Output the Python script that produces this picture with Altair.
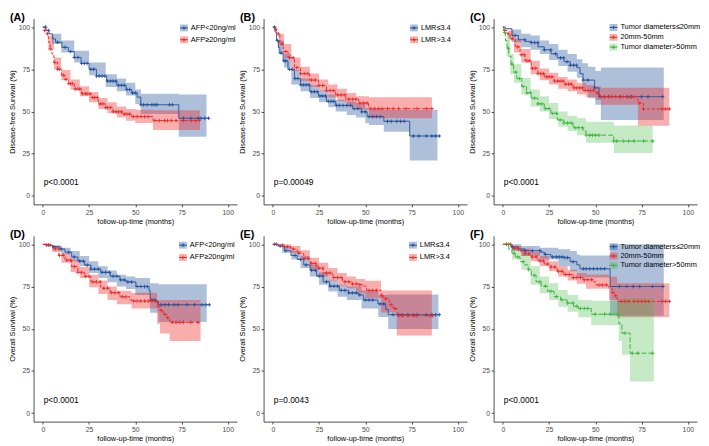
import altair as alt
import pandas as pd

# ---------------- layout / style ----------------
W, H = 207, 189
BLUE, RED, GREEN = "#22529B", "#EE2A2A", "#3DB53D"
BAND_OP = {BLUE: 0.37, RED: 0.38, GREEN: 0.30}
DASH = {BLUE: [1, 0], RED: [3, 2], GREEN: [5, 2]}
CROSS = "M-1,0L1,0M0,-1L0,1"
TICKS = [0, 25, 50, 75, 100]
XTITLE = "follow-up-time (months)"

# ---------------- data ----------------
# Panel A (DFS by AFP)
A1_t = [0, 1.7, 3.4, 5.2, 6.9, 10.3, 13.8, 17, 20.7, 25, 29, 34.5, 40, 45, 48, 51, 53, 73.5, 90]
A1_s = [100, 98, 96, 93, 91, 88, 85.5, 82, 78.5, 75, 71, 68, 65.5, 63, 61, 58.5, 54, 46, 46]
A1_ct = [0, 5, 10, 17, 25, 34, 40, 45, 50, 53, 73.5, 88.5]
A1_hi = [100, 96, 92, 86, 79, 72, 69.5, 67, 63, 60.5, 60, 60]
A1_lo = [100, 90, 85, 79, 71.5, 64.5, 62, 59.5, 54.5, 48.5, 35, 35]
A1_c = [1.5, 3, 8, 12, 15, 17, 19, 21, 22.5, 24, 26, 27.5, 29, 30.5, 32, 33.5, 35, 36.5, 38, 39.5, 41,
        42.5, 44, 45.5, 47, 48.5, 50, 53, 54.5, 56.5, 59, 60.6, 61.7, 68.4, 70, 76, 80, 84, 85.5, 87.5, 89.6]
A2_t = [0, 1, 2, 3, 4, 5, 6, 8, 10, 12, 14, 17, 21, 26, 30, 34, 38, 43, 48, 59.6, 85]
A2_s = [100, 98, 96, 91, 87, 84, 79, 75, 71.5, 69, 66.5, 63.3, 60.5, 58.3, 54.5, 52.3, 49.8, 48.5, 47, 44.6, 44.6]
A2_ct = [0, 3, 6, 10, 15, 20, 25, 30, 35, 40, 45, 50, 59.6, 85]
A2_hi = [100, 95, 82, 74.5, 69, 65, 61.5, 58, 55.5, 53, 51.5, 51, 50.8, 50.8]
A2_lo = [100, 87, 75, 68.5, 63, 59, 55.5, 51.5, 49, 46.5, 44.5, 43.2, 39, 39]
A2_c = [1, 2.5, 4, 6.5, 8, 9, 11, 12.5, 14, 15, 16, 17.5, 19, 20, 21.5, 23, 24, 25.5, 27, 28, 29.5, 31,
        32.5, 34, 35, 36.5, 38, 39.5, 41, 42.5, 44, 45.5, 47, 49, 51, 53, 55, 57, 60.6, 63, 65.8, 67.4,
        69.4, 72, 76, 80, 82.4, 84.5]

# Panel B (DFS by LMR)
B1_t = [0, 1.2, 2, 3, 3.8, 5.6, 8.2, 11.7, 15, 20, 24.7, 29, 34, 43, 48, 51, 60, 74, 90]
B1_s = [100, 97, 92, 88, 84.6, 80, 75, 69.5, 65.8, 61.7, 59.2, 56, 53.6, 51.7, 49.8, 47, 44.2, 35.5, 35.5]
B1_ct = [0, 3, 6, 10, 15, 20, 25, 30, 34, 40, 45, 50, 52, 60, 74, 89]
B1_hi = [100, 92, 84, 74.5, 69.5, 65.5, 62.5, 60, 57, 56, 55, 52, 51.5, 51, 51, 51]
B1_lo = [100, 84, 76, 66, 62, 58, 55.5, 52.5, 50, 48, 46.5, 43, 42, 38, 21, 21]
B1_c = [1, 2.5, 4.5, 6, 7, 9, 10.5, 12, 13.5, 15, 16.5, 18, 19.5, 21, 22.5, 24, 25.5, 27, 28.5, 30, 31.5,
        33, 34.5, 36, 38, 40, 42, 44, 46, 48, 50, 52, 54, 56, 58, 62, 64, 67, 69, 71, 76, 79, 83, 86, 88, 90]
B2_t = [0, 1.2, 2, 3.8, 5.6, 8.2, 11.7, 15, 20, 24.7, 29, 34, 39.5, 46.4, 51.7, 52.5, 86.4]
B2_s = [100, 98.7, 96, 90, 85.5, 81.8, 76, 72.4, 68.6, 65.4, 62.4, 59.8, 57.3, 55, 52.6, 51.7, 51.7]
B2_ct = [0, 3, 6, 10, 15, 20, 25, 30, 35, 40, 45, 52, 86]
B2_hi = [100, 96, 90, 82, 76.5, 72.5, 69, 66, 63.5, 61, 59, 58.5, 58.5]
B2_lo = [100, 89, 81.5, 74, 68, 64.5, 62, 58.5, 56, 53, 51, 46, 46]
B2_c = [1.5, 3, 5, 7, 9, 11, 13, 15, 17, 19, 21, 23, 25, 27, 29, 31, 33, 35, 37, 39, 41, 43, 45, 47, 49,
        51, 53, 55, 57, 59, 62, 65, 68, 72, 78, 83, 86]

# Panel C (DFS by tumour diameter)
C1_t = [0, 1.4, 4.9, 8.4, 12, 15.4, 19, 22.4, 26, 29.4, 33, 36.4, 40, 41.7, 43.4, 49.6, 52, 87]
C1_s = [100, 99, 95, 92.5, 91.5, 90.8, 88.3, 86.5, 84.2, 81.8, 79.5, 77.4, 76, 72.4, 68.6, 64, 58.8, 58.8]
C1_ct = [0, 5, 10, 15, 20, 25, 30, 35, 40, 43, 46, 50, 53, 87]
C1_hi = [100, 98.5, 96, 95, 92, 90, 86.5, 84, 81, 78.5, 76.5, 74, 76, 76]
C1_lo = [100, 91, 88, 86.5, 84, 80.5, 77, 73.5, 70, 63, 58, 54, 45, 45]
C1_c = [6.7, 11.9, 15.4, 17.2, 18.9, 22.4, 25.9, 28.5, 31.2, 32.9, 34.7, 36.4, 38.2, 39.9, 43.4, 46,
        49.6, 52.5, 54.8, 57.4, 63.5, 67.6, 69.7, 74.9, 78.5, 86.3]
C2_t = [0, 0.5, 2.3, 4, 6.7, 9.3, 12, 15.4, 19, 22.4, 27.7, 33, 38, 43.4, 50.4, 52, 73, 76, 90]
C2_s = [100, 98, 96, 93, 88.3, 83.6, 80, 75.6, 72.4, 70.5, 68, 66.2, 64, 62.4, 61, 58.8, 55, 51.5, 51.5]
C2_ct = [0, 3, 6, 10, 15, 20, 25, 30, 35, 40, 45, 50, 53, 73, 90]
C2_hi = [100, 98, 93, 87, 80, 75.5, 73, 70.5, 69, 67, 65.5, 65, 64, 64, 64]
C2_lo = [100, 93, 85, 79, 72, 68.5, 66, 63.5, 62, 60, 58.5, 57, 54, 41.5, 41.5]
C2_c = [1, 3, 5, 8, 10, 11.5, 13, 14.5, 16, 17.5, 19, 20.5, 22, 23.5, 25, 26.5, 28, 29.5, 31, 32.5, 34,
        35.5, 37, 38.5, 40, 41.5, 43, 44.5, 46, 47.5, 49, 51, 53, 55, 57, 59, 61, 63, 65, 67, 69, 71, 74,
        76, 86, 88, 90]
C3_t = [0, 0.5, 1.4, 2.3, 3.2, 4.4, 5.8, 7.5, 10.2, 12.8, 15.4, 19, 22.4, 26, 29.4, 33, 38, 43.4, 45, 60, 81.6]
C3_s = [100, 96.8, 92, 87.4, 82.7, 78, 73.3, 69.5, 64.8, 61, 57.9, 54.5, 51.7, 48.9, 45, 43.2, 40.4,
        38.5, 36, 32.5, 32.5]
C3_ct = [0, 2, 4, 6, 10, 15, 20, 25, 30, 35, 40, 45, 60, 81]
C3_hi = [100, 95, 84, 78, 70, 63, 59, 55, 50, 47.5, 46, 44, 41.7, 41.7]
C3_lo = [100, 83, 72, 67, 60, 53, 50, 45.5, 41, 38.5, 36, 31.5, 25.5, 25.5]
C3_c = [1, 3, 5, 7, 9, 11, 13, 15, 17, 19, 21, 23, 25, 27, 29, 31, 33, 35, 37, 39, 41, 43, 45, 47, 48.5,
        50, 52, 60, 61.5, 65, 68, 71, 76, 81]

# Panel D (OS by AFP)
D1_t = [0, 2, 5.2, 8.7, 12, 15.6, 19, 22.6, 26, 31.3, 36.5, 41.7, 45, 50.3, 57.5, 58, 61.6, 62.5, 90]
D1_s = [100, 99.5, 98.5, 97.2, 95.3, 92.5, 90, 87.7, 85.3, 83.4, 81.1, 78.9, 77.7, 75, 72.6, 67, 66, 64.2, 64.2]
D1_ct = [0, 5, 10, 15, 20, 25, 30, 35, 40, 45, 50, 58, 62.5, 88.6]
D1_hi = [100, 99.5, 98, 96, 93, 90, 87, 84.5, 82, 81, 80, 77, 76.4, 76.4]
D1_lo = [100, 97.5, 94, 90, 87, 83, 80, 77.5, 75, 73.5, 70, 59.5, 54, 54]
D1_c = [3, 6, 10, 14, 17, 20, 22, 24, 26, 28, 30, 32, 34, 36, 38, 40, 42, 44, 46, 48, 51, 53, 55, 56.5,
        59, 60.5, 64, 66, 68, 71, 73, 78, 82, 86, 88, 90]
D2_t = [0, 1.7, 5.2, 8.7, 12, 15.6, 19, 22.6, 26, 31.3, 36.5, 41.7, 47, 48.3, 61.8, 63.4, 65, 66.8, 68.6, 85.4]
D2_s = [100, 99.5, 97.2, 93.4, 90.6, 86.8, 83.4, 81, 77.7, 74, 71.3, 68.9, 67, 66.4, 63.2, 60.8, 58.5,
        56.6, 53.8, 53.8]
D2_ct = [0, 5, 10, 15, 20, 25, 30, 35, 40, 48, 61.8, 63.4, 68.6, 85.3]
D2_hi = [100, 99, 94.5, 91, 86.5, 82, 78.5, 75, 72.5, 71.3, 67, 67, 67, 67]
D2_lo = [100, 95.5, 89, 83.5, 80, 74.5, 70.5, 67, 64.5, 62, 53, 47.2, 42.7, 42.7]
D2_c = [2, 4, 7, 9, 11, 13, 15, 17, 19, 21, 23, 25, 27, 29, 31, 33, 35, 37, 39, 41, 43, 45, 49, 51, 53,
        55, 57, 59, 61, 62.5, 64, 66, 67.5, 70, 72, 74, 76, 80, 84]

# Panel E (OS by LMR)
E1_t = [0, 2.8, 6.3, 9.8, 13.2, 16.7, 20.2, 23.7, 27.2, 30.7, 35.9, 41, 46.3, 49, 56.8, 61, 62.4, 90]
E1_s = [100, 99, 96.2, 93.4, 91, 87.8, 84.6, 81.2, 77.8, 75.2, 72.7, 71.2, 70, 67, 64.7, 61.5, 58.3, 58.3]
E1_ct = [0, 5, 10, 15, 20, 25, 30, 35, 40, 48, 57, 62.4, 89.5]
E1_hi = [100, 99, 96, 93, 88, 83.5, 79, 76, 75, 72.7, 70, 70.3, 70.3]
E1_lo = [100, 95, 91, 86, 81, 76, 72, 69, 67, 62, 57, 49.8, 49.8]
E1_c = [1, 4, 7, 12, 15, 18, 21, 23, 25, 27, 29, 31, 33, 35, 37, 39, 41, 43, 45, 47, 50, 52, 54, 58, 60,
        65, 68, 70, 73, 76, 78, 83, 86, 88, 90]
E2_t = [0, 3, 6.3, 9.8, 13.2, 16.7, 20.2, 23.7, 27.2, 32.4, 37.6, 42.9, 46.3, 49, 50.7, 58.5, 60, 63, 65, 67, 86.4]
E2_s = [100, 99.5, 98.5, 97.2, 94.7, 91.5, 88.7, 85.9, 83, 80.3, 77.8, 76.5, 76, 75.2, 72.7, 69.5, 67.7,
        64.3, 62, 57.7, 57.7]
E2_ct = [0, 5, 10, 15, 20, 25, 30, 35, 40, 45, 50, 58.5, 67, 86]
E2_hi = [100, 100, 99, 96.5, 92, 89, 86, 83, 81, 79.5, 78.4, 72.7, 72.7, 72.7]
E2_lo = [100, 97.5, 95, 91, 85, 81, 78.5, 75.5, 74, 71, 68, 59.6, 46, 46]
E2_c = [2, 5, 8, 11, 14, 17, 19, 21, 23, 25, 27, 29, 31, 33, 35, 37, 39, 41, 43, 45, 47, 52, 54, 56, 59,
        61, 64, 66, 68, 70, 73, 76, 77.5, 85, 86.4]

# Panel F (OS by tumour diameter)
F1_t = [0, 4.9, 8.4, 11.9, 20.7, 22.4, 26, 33, 36.4, 40, 41.7, 58, 87]
F1_s = [100, 98.5, 97.2, 96.2, 95.3, 94, 92.5, 92.1, 89.7, 87.8, 85.5, 75, 75]
F1_ct = [0, 5, 10, 20, 30, 36.4, 40, 41.7, 58, 87]
F1_hi = [100, 100, 99, 98, 97, 96, 94, 93.4, 100, 100]
F1_lo = [100, 96, 93, 91, 87, 84, 80, 80.3, 57.7, 57.7]
F1_c = [5, 12, 16, 20, 23, 27, 29, 30.5, 32, 33.5, 35, 38, 43.5, 45, 47, 49, 51, 53, 55, 63, 67, 70.5,
        74, 81, 86.5]
F2_t = [0, 4.9, 8.4, 11.9, 15.4, 19, 22.4, 26, 29.4, 33, 38, 43.4, 48.7, 50.4, 57.4, 59, 60.6, 61.8, 90.4]
F2_s = [100, 97.7, 96.2, 94.4, 92.5, 90.2, 88.3, 86.5, 84, 82.1, 80.3, 79, 77.8, 75.9, 74, 71.4, 69.5,
        66.2, 66.2]
F2_ct = [0, 5, 10, 15, 20, 25, 30, 35, 40, 45, 57.4, 61.8, 90]
F2_hi = [100, 99, 97.5, 95.5, 93, 90, 87, 85, 83, 82.1, 80.8, 76.9, 76.9]
F2_lo = [100, 96.5, 93, 90, 87, 84, 81, 78.5, 76.6, 73.7, 67, 56.8, 56.8]
F2_c = [2, 4, 6, 8, 10, 12, 14, 16, 18, 20, 22, 24, 26, 28, 30, 32, 34, 36, 38, 40, 42, 44, 46, 48, 52,
        54, 56, 59.5, 61, 64, 66, 68, 71, 73, 75, 77, 79, 86, 88, 90]
F3_t = [0, 3.2, 4.9, 6.7, 9.3, 11.9, 13.7, 15.4, 18, 20.7, 24.2, 27.7, 31.2, 34.7, 38.2, 40.8, 47.8,
        62.7, 64.4, 68.8, 81.6]
F3_s = [100, 97.2, 94.7, 92.5, 89.7, 87.8, 85, 81.6, 77.8, 75.2, 72.2, 69, 67.1, 65.2, 63.3, 62, 58.6,
        53, 47.4, 35.5, 35.5]
F3_ct = [0, 5, 10, 15, 20, 25, 30, 35, 40.8, 47.8, 62.7, 64.4, 68.8, 81.6]
F3_hi = [100, 98, 94, 87, 81, 77, 73, 70, 67, 66.5, 66.5, 68, 68, 68]
F3_lo = [100, 91, 85, 76, 71, 67, 63, 60, 56.8, 52, 42.7, 34.6, 18.8, 18.8]
F3_c = [3, 6, 8, 11, 14, 17, 20, 23, 26, 29, 32, 35, 38, 40, 42, 44, 46, 50, 55, 58, 62, 66, 70, 73, 81]

AFP_LABELS = ["AFP<20ng/ml", "AFP≥20ng/ml"]
LMR_LABELS = ["LMR≤3.4", "LMR>3.4"]
TUM_LABELS = ["Tumor diameters≤20mm", "20mm-50mm", "Tumor diameter>50mm"]
DFS_TITLE = "Disease-free Survival (%)"
OS_TITLE = "Overall Survival (%)"


# ---------------- helpers ----------------
def step_lookup(times, surv, c):
    val = surv[0]
    for tt, ss in zip(times, surv):
        if tt <= c:
            val = ss
    return val


def panel(tag, ytitle, pval, curves, labels, lx, ly0, ldy):
    xsc = alt.Scale(domain=[-5, 105], nice=False, zero=False)
    ysc = alt.Scale(domain=[-5, 105], nice=False, zero=False)
    xax = alt.Axis(values=TICKS, title=XTITLE)
    yax = alt.Axis(values=TICKS, title=ytitle)
    X = alt.X("t:Q", scale=xsc, axis=xax)
    layers = []
    for (t, s, ct, lo, hi, cens, col) in curves:
        bd = pd.DataFrame({"t": ct, "lo": lo, "hi": hi})
        layers.append(
            alt.Chart(bd).mark_area(interpolate="step-after", color=col, opacity=BAND_OP[col])
            .encode(x=X, y=alt.Y("lo:Q", scale=ysc, axis=yax), y2="hi:Q")
        )
    for (t, s, ct, lo, hi, cens, col) in curves:
        ld = pd.DataFrame({"t": t, "s": s})
        layers.append(
            alt.Chart(ld).mark_line(interpolate="step-after", color=col, strokeWidth=1,
                                    strokeDash=DASH[col])
            .encode(x=X, y=alt.Y("s:Q", scale=ysc, axis=yax))
        )
    for (t, s, ct, lo, hi, cens, col) in curves:
        cd = pd.DataFrame({"t": cens, "s": [step_lookup(t, s, c) for c in cens]})
        layers.append(
            alt.Chart(cd).mark_point(shape=CROSS, color=col, size=14, strokeWidth=0.9,
                                     filled=False, opacity=1)
            .encode(x=X, y=alt.Y("s:Q", scale=ysc, axis=yax))
        )
    # p-value
    layers.append(
        alt.Chart(pd.DataFrame({"label": [pval]}))
        .mark_text(align="left", baseline="middle", fontSize=8.5, fill="#000000")
        .encode(x=alt.value(W * 5.5 / 110), y=alt.value(H * (105 - 8) / 110), text="label:N")
    )
    # panel tag
    layers.append(
        alt.Chart(pd.DataFrame({"label": [tag]}))
        .mark_text(align="left", baseline="alphabetic", fontSize=11, fontWeight="bold", fill="#000000")
        .encode(x=alt.value(-24), y=alt.value(2), text="label:N")
    )
    # legend (drawn manually, inside plot, top-right)
    x0 = lx * W
    for i, (lab, cv) in enumerate(zip(labels, curves)):
        col = cv[-1]
        yy = ly0 + i * ldy
        d = pd.DataFrame({"label": [lab]})
        base = alt.Chart(d)
        layers.append(base.mark_rect(color=col, opacity=BAND_OP[col]).encode(
            x=alt.value(x0), x2=alt.value(x0 + 8), y=alt.value(yy - 3.5), y2=alt.value(yy + 3.5)))
        layers.append(base.mark_rule(color=col, strokeWidth=1).encode(
            x=alt.value(x0), x2=alt.value(x0 + 8), y=alt.value(yy)))
        layers.append(base.mark_point(shape=CROSS, color=col, size=14, strokeWidth=0.9,
                                      filled=False, opacity=1).encode(
            x=alt.value(x0 + 4), y=alt.value(yy)))
        layers.append(base.mark_text(align="left", baseline="middle", fontSize=7.5, fill="#000000").encode(
            x=alt.value(x0 + 11), y=alt.value(yy), text="label:N"))
    return alt.layer(*layers).properties(width=W, height=H)


pA = panel("(A)", DFS_TITLE, "p<0.0001",
           [(A1_t, A1_s, A1_ct, A1_lo, A1_hi, A1_c, BLUE), (A2_t, A2_s, A2_ct, A2_lo, A2_hi, A2_c, RED)],
           AFP_LABELS, 0.72, 9.5, 12)
pB = panel("(B)", DFS_TITLE, "p=0.00049",
           [(B1_t, B1_s, B1_ct, B1_lo, B1_hi, B1_c, BLUE), (B2_t, B2_s, B2_ct, B2_lo, B2_hi, B2_c, RED)],
           LMR_LABELS, 0.72, 9.5, 12)
pC = panel("(C)", DFS_TITLE, "p<0.0001",
           [(C1_t, C1_s, C1_ct, C1_lo, C1_hi, C1_c, BLUE), (C2_t, C2_s, C2_ct, C2_lo, C2_hi, C2_c, RED),
            (C3_t, C3_s, C3_ct, C3_lo, C3_hi, C3_c, GREEN)],
           TUM_LABELS, 0.57, 9, 10)
pD = panel("(D)", OS_TITLE, "p<0.0001",
           [(D1_t, D1_s, D1_ct, D1_lo, D1_hi, D1_c, BLUE), (D2_t, D2_s, D2_ct, D2_lo, D2_hi, D2_c, RED)],
           AFP_LABELS, 0.715, 9.5, 12.5)
pE = panel("(E)", OS_TITLE, "p=0.0043",
           [(E1_t, E1_s, E1_ct, E1_lo, E1_hi, E1_c, BLUE), (E2_t, E2_s, E2_ct, E2_lo, E2_hi, E2_c, RED)],
           LMR_LABELS, 0.715, 9.5, 12.5)
pF = panel("(F)", OS_TITLE, "p<0.0001",
           [(F1_t, F1_s, F1_ct, F1_lo, F1_hi, F1_c, BLUE), (F2_t, F2_s, F2_ct, F2_lo, F2_hi, F2_c, RED),
            (F3_t, F3_s, F3_ct, F3_lo, F3_hi, F3_c, GREEN)],
           TUM_LABELS, 0.57, 11, 9.5)

chart = (
    alt.vconcat(
        alt.hconcat(pA, pB, pC, spacing=1),
        alt.hconcat(pD, pE, pF, spacing=1),
        spacing=4,
    )
    .properties(padding=0)
    .configure(font="Liberation Sans")
    .configure_view(strokeWidth=0)
    .configure_axis(
        grid=False,
        domainColor="#222222", domainWidth=0.8,
        tickColor="#222222", tickWidth=0.8, tickSize=2.5,
        labelFontSize=7, labelColor="#4d4d4d", labelPadding=1.5,
        titleFontSize=7.5, titleFontWeight="normal", titleColor="#000000", titlePadding=2,
    )
)

chart.save("out.html", embed_options={"renderer": "svg", "actions": False})
